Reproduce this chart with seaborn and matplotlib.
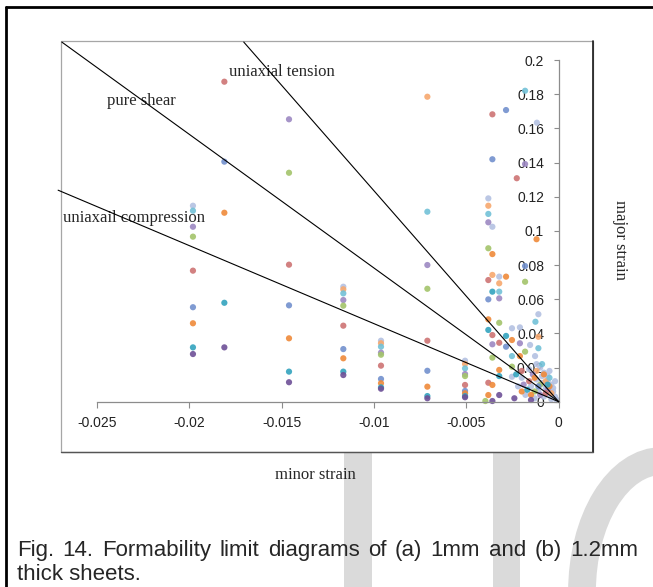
import matplotlib.pyplot as plt
import seaborn as sns
import numpy as np
import pandas as pd
from matplotlib.patches import Rectangle, Arc

# ---- data (minor strain, major strain) per series colour ----
lb_x = [-0.0198, -0.01166, -0.00962, -0.00507, -0.00381, -0.00359, -0.00322, -0.00253, -0.00253, -0.0021,
        -0.00155, -0.00118, -0.0011, -0.00128, -0.001, -0.0008, -0.0006, -0.0012, -0.0009, -0.0004,
        -0.0007, -0.0003, -0.0011, -0.0005, -0.0002, -0.0008, -0.0001, -0.0015, -0.0018, -0.0013,
        -0.0004, -0.0006, -0.0009, -0.0003, -0.0016, -0.002, -0.0022, -0.0012, -0.0005, -0.0002]
lb_y = [0.1147, 0.0673, 0.0357, 0.024, 0.119, 0.1024, 0.0732, 0.043, 0.0146, 0.0435,
        0.0332, 0.1633, 0.0512, 0.0267, 0.02, 0.017, 0.015, 0.013, 0.011, 0.01,
        0.008, 0.006, 0.006, 0.004, 0.003, 0.003, 0.001, 0.009, 0.004, 0.002,
        0.0015, 0.012, 0.015, 0.008, 0.019, 0.014, 0.009, 0.022, 0.018, 0.012]

lo_x = [-0.01166, -0.00962, -0.00711, -0.00507, -0.00381, -0.00359, -0.00322, -0.0011, -0.0012, -0.0007, -0.0004]
lo_y = [0.0658, 0.0342, 0.1785, 0.0221, 0.1147, 0.0742, 0.0693, 0.038, 0.018, 0.012, 0.005]

la_x = [-0.0198, -0.01166, -0.00962, -0.00711, -0.00507, -0.00381, -0.00322, -0.00253, -0.00182, -0.00126,
        -0.0011, -0.0009, -0.0005]
la_y = [0.1118, 0.0634, 0.0322, 0.1112, 0.0195, 0.1099, 0.0644, 0.0267, 0.182, 0.0468,
        0.0313, 0.022, 0.014]

pu_x = [-0.0198, -0.0146, -0.01166, -0.00962, -0.00711, -0.00507, -0.00381, -0.00359, -0.00322, -0.0021,
        -0.00182, -0.0014, -0.0006, -0.0019, -0.001]
pu_y = [0.1024, 0.1653, 0.0595, 0.0287, 0.08, 0.0162, 0.105, 0.0336, 0.0605, 0.0342,
        0.1391, 0.016, 0.007, 0.01, 0.004]

gr_x = [-0.0198, -0.0146, -0.01166, -0.00962, -0.00711, -0.00507, -0.00381, -0.00359, -0.00322, -0.00253,
        -0.00182, -0.00182, -0.00397, -0.001, -0.0013]
gr_y = [0.0966, 0.134, 0.0562, 0.0275, 0.0661, 0.015, 0.0898, 0.0258, 0.0462, 0.0205,
        0.0702, 0.0293, 0.0004, 0.01, 0.006]

re_x = [-0.0198, -0.0181, -0.0146, -0.01166, -0.00962, -0.00711, -0.00507, -0.00381, -0.00381, -0.00359,
        -0.00359, -0.00322, -0.00227, -0.0016, -0.0007, -0.002]
re_y = [0.0767, 0.1873, 0.0802, 0.0445, 0.0211, 0.0357, 0.0098, 0.0712, 0.0111, 0.1682,
        0.039, 0.0345, 0.1308, 0.012, 0.005, 0.018]

bl_x = [-0.0198, -0.0181, -0.0146, -0.01166, -0.00962, -0.00711, -0.00507, -0.00381, -0.00359, -0.00285,
        -0.00285, -0.00182, -0.0011]
bl_y = [0.0553, 0.1405, 0.0564, 0.0308, 0.0133, 0.0181, 0.0063, 0.0599, 0.1419, 0.1707,
        0.0322, 0.0794, 0.009]

or_x = [-0.0198, -0.0181, -0.0146, -0.01166, -0.00962, -0.00711, -0.00507, -0.00381, -0.00381, -0.00359,
        -0.00359, -0.00322, -0.00285, -0.00253, -0.0021, -0.0012, -0.0013, -0.0005, -0.002, -0.0008, -0.0015]
or_y = [0.0459, 0.1106, 0.0371, 0.0254, 0.0108, 0.0088, 0.0049, 0.0482, 0.0039, 0.0864,
        0.0098, 0.0186, 0.0732, 0.0361, 0.0267, 0.0951, 0.014, 0.009, 0.006, 0.016, 0.004]

te_x = [-0.0198, -0.0181, -0.0146, -0.01166, -0.00962, -0.00711, -0.00507, -0.00381, -0.00359, -0.00322,
        -0.00285, -0.0017, -0.0023, -0.0006]
te_y = [0.0318, 0.0579, 0.0176, 0.0176, 0.0084, 0.0033, 0.0033, 0.042, 0.0644, 0.015,
        0.0385, 0.007, 0.016, 0.01]

dp_x = [-0.0198, -0.0181, -0.0146, -0.01166, -0.00962, -0.00711, -0.00507, -0.00359, -0.00322, -0.0024, -0.0015]
dp_y = [0.0279, 0.0318, 0.0114, 0.0156, 0.0076, 0.002, 0.0026, 0.0004, 0.0039, 0.002, 0.001]

# guide lines from the origin (end points in data units)
guide_names = ['uniaxial tension', 'pure shear', 'uniaxail compression']
guide_x = [-0.01705, -0.0269, -0.0271]
guide_y = [0.2105, 0.2105, 0.1238]

x_ticks = [-0.025, -0.02, -0.015, -0.01, -0.005, 0]
x_labels = ['-0.025', '-0.02', '-0.015', '-0.01', '-0.005', '0']
y_ticks = [0, 0.02, 0.04, 0.06, 0.08, 0.1, 0.12, 0.14, 0.16, 0.18, 0.2]
y_labels = ['0', '0.02', '0.04', '0.06', '0.08', '0.1', '0.12', '0.14', '0.16', '0.18', '0.2']

caption_1 = 'Fig. 14. Formability limit diagrams of (a) 1mm and (b) 1.2mm'
caption_2 = 'thick sheets.'

palette = {'lb': '#b4c1e2', 'lo': '#f7a86e', 'la': '#72c1d7', 'pu': '#9c88c2', 'gr': '#a3c46a',
           're': '#cd7373', 'bl': '#7290cd', 'or': '#ef8a3a', 'te': '#33a3be', 'dp': '#6e5097'}

series = {'lb': (lb_x, lb_y), 'lo': (lo_x, lo_y), 'la': (la_x, la_y), 'pu': (pu_x, pu_y),
          'gr': (gr_x, gr_y), 're': (re_x, re_y), 'bl': (bl_x, bl_y), 'or': (or_x, or_y),
          'te': (te_x, te_y), 'dp': (dp_x, dp_y)}
rows = []
for name, (xs, ys) in series.items():
    for a, b in zip(xs, ys):
        rows.append({'minor': a, 'major': b, 'series': name})
df = pd.DataFrame(rows)

sns.set_theme(style='white')
plt.rcParams['font.family'] = ['Liberation Sans', 'DejaVu Sans']

W, H = 653, 587
fig = plt.figure(figsize=(W / 100, H / 100), dpi=100)
fig.patch.set_facecolor('white')

# decoration layer in pixel coordinates
deco = fig.add_axes([0, 0, 1, 1], zorder=0)
deco.set_xlim(0, W)
deco.set_ylim(H, 0)
deco.axis('off')

# watermark
wm = '#dadada'
deco.add_patch(Rectangle((344, 447), 28, 140, color=wm, lw=0, zorder=0))
deco.add_patch(Rectangle((493, 447), 27, 140, color=wm, lw=0, zorder=0))
deco.add_patch(Arc((662, 592), 160, 262, theta1=90, theta2=270, color=wm, lw=20, zorder=0))

# chart area frame
deco.add_patch(Rectangle((61, 41), 532, 411, facecolor='white', edgecolor='#a6a6a6', lw=0.9, zorder=1))
deco.plot([593, 593], [41, 452], color='#1a1a1a', lw=1.2, zorder=2)
deco.plot([61, 593], [452, 452], color='#555555', lw=1.0, zorder=2)

# page border
deco.plot([6, 6], [7, H], color='black', lw=2.0, zorder=2)
deco.plot([6, W], [7, 7], color='black', lw=2.0, zorder=2)

serif = ['Liberation Serif', 'DejaVu Serif']
deco.text(229, 72, 'uniaxial tension', family=serif, fontsize=12, va='center', ha='left', zorder=3)
deco.text(107, 101, 'pure shear', family=serif, fontsize=12, va='center', ha='left', zorder=3)
deco.text(63, 218, 'uniaxail compression', family=serif, fontsize=12, va='center', ha='left', zorder=3)
deco.text(315, 475, 'minor strain', family=serif, fontsize=12, va='center', ha='center', zorder=3)
deco.text(620, 240, 'major strain', family=serif, fontsize=12, va='center', ha='center',
          rotation=270, zorder=3)

# main plot area
x0, x1, y0, y1 = 96.9, 558.7, 401.7, 60.0
ax = fig.add_axes([x0 / W, (H - y0) / H, (x1 - x0) / W, (y0 - y1) / H], zorder=2)
ax.set_facecolor('none')

sns.scatterplot(data=df, x='minor', y='major', hue='series', palette=palette, s=20,
                edgecolor='none', alpha=0.9, legend=False, ax=ax, zorder=2)
for c in ax.collections:
    c.set_clip_on(False)

for gx, gy in zip(guide_x, guide_y):
    ax.plot([0, gx], [0, gy], color='black', lw=0.8, clip_on=False, zorder=3)

ax.set_xlim(-0.025, 0)
ax.set_ylim(0, 0.2)
ax.set_xlabel('')
ax.set_ylabel('')
for s in ['left', 'top']:
    ax.spines[s].set_visible(False)
for s in ['right', 'bottom']:
    ax.spines[s].set_color('#8c8c8c')
    ax.spines[s].set_linewidth(0.9)

ax.set_xticks(x_ticks, x_labels)
ax.set_yticks(y_ticks, y_labels, ha='right')
ax.yaxis.tick_right()
ax.tick_params(axis='x', direction='out', length=4.3, width=0.8, color='#8c8c8c',
               pad=6, labelsize=10, labelcolor='#222222', bottom=True)
ax.tick_params(axis='y', direction='in', length=3.6, width=0.8, color='#8c8c8c',
               pad=-10.5, labelsize=10, labelcolor='#222222', right=True, left=False,
               labelright=True, labelleft=False)

# justified caption
cap_size = 16
fig.canvas.draw()
renderer = fig.canvas.get_renderer()
words = caption_1.split(' ')
texts = [deco.text(0, 556, w_, fontsize=cap_size, va='baseline', ha='left', zorder=3) for w_ in words]
widths = [t.get_window_extent(renderer).width for t in texts]
left, right = 17, 638
gap = (right - left - sum(widths)) / (len(words) - 1)
pos = left
for t, wd in zip(texts, widths):
    t.set_x(pos)
    pos += wd + gap
deco.text(left, 580, caption_2, fontsize=cap_size, va='baseline', ha='left', zorder=3)

fig.savefig('out.png', dpi=100)
